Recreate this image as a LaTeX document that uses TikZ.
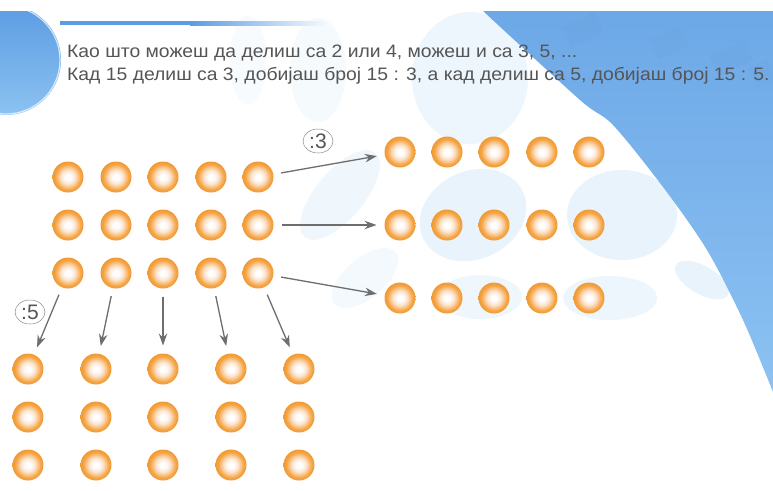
\documentclass[tikz,border=0pt]{standalone}
\usepackage{fontspec}
\setmainfont{Liberation Sans}
\usetikzlibrary{arrows.meta,shapes.geometric}

\definecolor{skyblue}{HTML}{76B0EC}
\definecolor{skyblueL}{HTML}{8CC2F2}
\definecolor{skyblueD}{HTML}{6DA8E7}
\definecolor{hazeblue}{HTML}{D2E9F8}
\definecolor{barblue}{HTML}{5C9CE2}
\definecolor{textgray}{HTML}{555555}
\definecolor{arrowgray}{HTML}{6E6E6E}
\definecolor{ballpale}{HTML}{FCE6D2}
\definecolor{ballmid}{HTML}{F8BE7C}
\definecolor{ballrim}{HTML}{F5A443}
\definecolor{balledge}{HTML}{F09A36}

% orange bead: white highlight in the middle, orange rim
\pgfdeclareradialshading{beadshade}{\pgfpoint{0bp}{0bp}}{%
  color(0bp)=(white); color(4bp)=(white); color(11bp)=(ballpale);
  color(17bp)=(ballmid); color(20.5bp)=(ballrim); color(25bp)=(balledge);
  color(50bp)=(balledge)}

\tikzset{
  bead/.style={circle, minimum size=31pt, inner sep=0pt, outer sep=8pt, shading=beadshade},
  arr/.style={draw=arrowgray, line width=1.3pt, -{Stealth[length=12pt,width=8.5pt]}},
  divlbl/.style={ellipse, draw=arrowgray!80, line width=0.5pt, minimum width=30pt,
    minimum height=24pt, inner sep=0pt, text=textgray, font=\fontsize{21}{21}\selectfont},
  txt/.style={anchor=base west, inner sep=0pt, text=textgray, font=\fontsize{18}{18}\selectfont},
  haze/.style={fill=hazeblue, opacity=0.5},
}
\newcommand{\widetext}[1]{\scalebox{1.075}[1]{#1}}

\begin{document}
\begin{tikzpicture}[x=1pt, y=-1pt]
\useasboundingbox (0,0) rectangle (773,490);
\fill[white] (0,0) rectangle (773,490);

% soft background spots
\begin{scope}
\clip (0,11) rectangle (773,490);
\fill[haze, opacity=0.22] (318,70) ellipse [x radius=28, y radius=52];
\fill[haze, opacity=0.15] (248,60) ellipse [x radius=18, y radius=45];
\fill[haze, opacity=0.4] (470,78) ellipse [x radius=58, y radius=66];
\fill[haze] (473,215) ellipse [x radius=55, y radius=44, rotate=25];
\fill[haze] (622,215) ellipse [x radius=55, y radius=45];
\fill[haze, opacity=0.4] (610,298) ellipse [x radius=47, y radius=22];
\fill[haze, opacity=0.35] (480,297) ellipse [x radius=42, y radius=22];
\fill[haze, opacity=0.35] (340,195) ellipse [x radius=55, y radius=24, rotate=50];
\fill[haze, opacity=0.25] (365,278) ellipse [x radius=40, y radius=20, rotate=40];
\fill[haze] (702,280) ellipse [x radius=30, y radius=14, rotate=-30];

% large blue area on the right
\shade[top color=skyblueD, bottom color=skyblueL]
  plot[smooth] coordinates {(483,11) (580,100) (613,125) (663,187) (707,250) (743,320) (773,392)}
  -- (773,11) -- cycle;
\begin{scope}[fill=skyblueD!85!black, opacity=0.07]
  \fill[rotate around={25:(580,30)}] (565,20) rectangle (600,42);
  \fill[rotate around={25:(668,42)}] (652,32) rectangle (685,54);
  \fill[rotate around={25:(730,58)}] (712,48) rectangle (750,70);
  \fill[rotate around={25:(760,75)}] (752,64) rectangle (773,86);
\end{scope}

% partly hidden circle at the left edge
\shade[top color=barblue, bottom color=skyblueL] (6,60) circle [radius=55];
\draw[white, opacity=0.7, line width=1.2pt] (6,60) circle [radius=54];
\end{scope}

% heading bar
\fill[barblue] (60,21) rectangle (190,25);
\shade[left color=barblue, right color=white] (190,21) rectangle (335,25);

% text
\node[txt] (line1) at (67,57.5) {\widetext{Као што можеш да делиш са 2 или 4, можеш и са 3, 5, ...}};
\node[txt] (line2) at (67,80.5) {\widetext{Кад 15 делиш са 3, добијаш број 15 : 3, а кад делиш са 5, добијаш број 15 : 5.}};

% left group: 3 rows of 5
\foreach \c/\x in {1/68,2/116,3/163,4/211,5/258}{
  \foreach \r/\y in {1/177,2/225,3/273}{
    \node[bead] (L\r\c) at (\x,\y) {};
  }
}
% right group: divided by 3
\foreach \c/\x in {1/400,2/447,3/494,4/542,5/589}{
  \foreach \r/\y in {1/152,2/225,3/298}{
    \node[bead] (R\r\c) at (\x,\y) {};
  }
}
% lower group: divided by 5
\foreach \c/\x in {1/28,2/96,3/163,4/231,5/299}{
  \foreach \r/\y in {1/369,2/417,3/465}{
    \node[bead] (B\r\c) at (\x,\y) {};
  }
}

% arrows
\draw[arr] (L15) -- (R11);
\draw[arr] (L25) -- (R21);
\draw[arr] (L35) -- (R31);
\foreach \c in {1,...,5}{
  \draw[arr] (L3\c) -- (B1\c);
}

% division labels
\node[divlbl] (div3) at (318,141) {:3};
\node[divlbl] (div5) at (30,312) {:5};
\end{tikzpicture}
\end{document}
